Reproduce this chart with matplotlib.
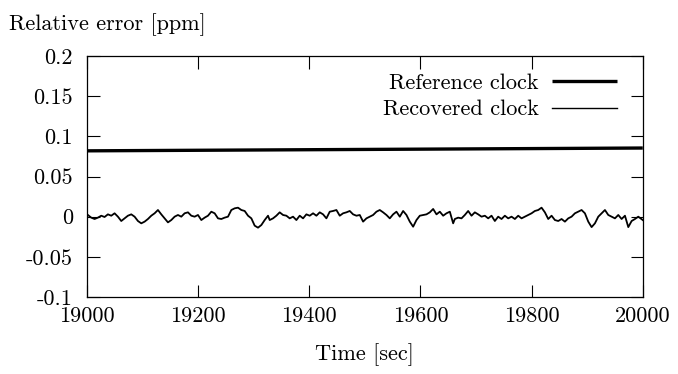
import matplotlib
matplotlib.use('Agg')
import matplotlib.pyplot as plt

plt.rcParams['font.family'] = ['cmr10', 'DejaVu Serif']
plt.rcParams['axes.unicode_minus'] = False
plt.rcParams['mathtext.fontset'] = 'cm'

# reference clock: straight line across the window
ref_time = [19000, 20000]
ref_err = [0.0820, 0.0855]

# recovered clock
rec_time = [
    19002, 19008, 19014, 19020, 19026, 19032, 19038, 19044, 19050, 19056,
    19062, 19068, 19074, 19080, 19086, 19092, 19098, 19104, 19110, 19116,
    19122, 19128, 19134, 19140, 19146, 19152, 19158, 19164, 19170, 19176,
    19182, 19188, 19194, 19200, 19206, 19212, 19218, 19224, 19230, 19236,
    19242, 19248, 19254, 19260, 19266, 19272, 19278, 19284, 19290, 19296,
    19302, 19308, 19314, 19320, 19326,
    19329, 19335, 19341, 19347, 19353, 19359, 19365, 19371, 19377, 19383,
    19389, 19395, 19401, 19407, 19413, 19419, 19425, 19431, 19437, 19443,
    19449, 19455, 19461, 19467, 19473, 19479, 19485, 19491, 19497, 19503,
    19509, 19515, 19521, 19527, 19533, 19539, 19545, 19551, 19557, 19563,
    19569, 19575, 19581, 19587, 19593, 19599, 19605, 19611, 19617, 19623,
    19629, 19635, 19641, 19647, 19653, 19659,
    19662, 19668, 19674, 19680, 19686, 19692, 19698, 19704, 19710, 19716,
    19722, 19728, 19734, 19740, 19746, 19752, 19758, 19764, 19770, 19776,
    19782, 19788, 19794, 19800, 19806, 19812, 19818, 19824, 19830, 19836,
    19842, 19848, 19854, 19860, 19866, 19872, 19878, 19884, 19890, 19896,
    19902, 19908, 19914, 19920, 19926, 19932, 19938, 19944, 19950, 19956,
    19962, 19968, 19974, 19980, 19986, 19992, 20000,
]
rec_err = [
    0.0021, -0.0012, -0.0029, -0.0012, 0.0012, -0.0004, 0.0029, 0.0012, 0.0042, 0.0000,
    -0.0054, -0.0021, 0.0012, 0.0029, 0.0000, -0.0054, -0.0083, -0.0062, -0.0029, 0.0012,
    0.0042, 0.0083, 0.0029, -0.0021, -0.0071, -0.0042, 0.0000, 0.0021, 0.0000, 0.0042,
    0.0054, 0.0012, 0.0000, 0.0021, -0.0042, -0.0012, 0.0012, 0.0062, 0.0042, -0.0021,
    -0.0029, -0.0012, 0.0000, 0.0083, 0.0104, 0.0112, 0.0083, 0.0071, 0.0012, -0.0021,
    -0.0112, -0.0137, -0.0104, -0.0042, 0.0012,
    -0.0042, -0.0021, 0.0012, 0.0054, 0.0021, 0.0012, -0.0021, 0.0000, -0.0042, 0.0012,
    -0.0021, 0.0029, 0.0012, 0.0042, 0.0012, 0.0054, 0.0029, -0.0021, 0.0062, 0.0071,
    0.0083, 0.0012, 0.0042, 0.0054, 0.0071, 0.0029, 0.0012, 0.0021, -0.0062, -0.0021,
    0.0000, 0.0021, 0.0062, 0.0083, 0.0054, 0.0021, -0.0021, 0.0029, 0.0062, 0.0000,
    0.0071, 0.0021, -0.0062, -0.0125, -0.0042, 0.0012, 0.0021, 0.0029, 0.0054, 0.0096,
    0.0029, 0.0062, 0.0012, 0.0042, 0.0062, -0.0083,
    -0.0029, -0.0012, -0.0021, 0.0021, 0.0071, 0.0012, 0.0054, 0.0029, 0.0000, 0.0012,
    -0.0021, 0.0012, -0.0054, 0.0000, -0.0029, 0.0012, -0.0021, 0.0000, -0.0029, 0.0012,
    -0.0021, 0.0000, 0.0021, 0.0042, 0.0071, 0.0083, 0.0112, 0.0054, -0.0029, 0.0012,
    -0.0042, -0.0054, -0.0029, -0.0062, -0.0021, 0.0000, 0.0042, 0.0062, 0.0083, 0.0042,
    -0.0062, -0.0130, -0.0083, 0.0000, 0.0042, 0.0083, 0.0021, 0.0000, -0.0021, 0.0021,
    -0.0029, 0.0012, -0.0130, -0.0054, -0.0029, 0.0000, -0.0042,
]

x_ticks = [19000, 19200, 19400, 19600, 19800, 20000]
y_ticks = [-0.1, -0.05, 0, 0.05, 0.1, 0.15, 0.2]
y_tick_labels = ['-0.1', '-0.05', '0', '0.05', '0.1', '0.15', '0.2']

FS = 16

fig = plt.figure(figsize=(6.78, 3.74), dpi=100)
ax = fig.add_axes([0.128, 0.206, 0.82, 0.644])

ax.plot(ref_time, ref_err, color='black', lw=2.4, label='Reference clock',
        solid_capstyle='butt')
ax.plot(rec_time, rec_err, color='black', lw=1.3, label='Recovered clock')

ax.set_xlim(19000, 20000)
ax.set_ylim(-0.1, 0.2)
ax.set_xticks(x_ticks)
ax.set_xticklabels([str(t) for t in x_ticks])
ax.set_yticks(y_ticks)
ax.set_yticklabels(y_tick_labels)
ax.tick_params(direction='in', length=9, width=0.8, labelsize=FS,
               top=True, right=True)
ax.tick_params(axis='x', pad=7)
ax.tick_params(axis='y', pad=10)
for s in ax.spines.values():
    s.set_linewidth(0.9)

ax.set_xlabel('Time [sec]', fontsize=FS, labelpad=12)
fig.text(0.014, 1 - 25 / 374, 'Relative error [ppm]', fontsize=FS,
         ha='left', va='center')

leg = ax.legend(loc='upper right', bbox_to_anchor=(0.953, 0.93),
                frameon=False, markerfirst=False, fontsize=FS,
                handlelength=2.9, handletextpad=0.6, labelspacing=0.33,
                borderpad=0, borderaxespad=0)
leg.get_lines()[1].set_linewidth(1.0)

fig.savefig('out.png', dpi=100, facecolor='white')
